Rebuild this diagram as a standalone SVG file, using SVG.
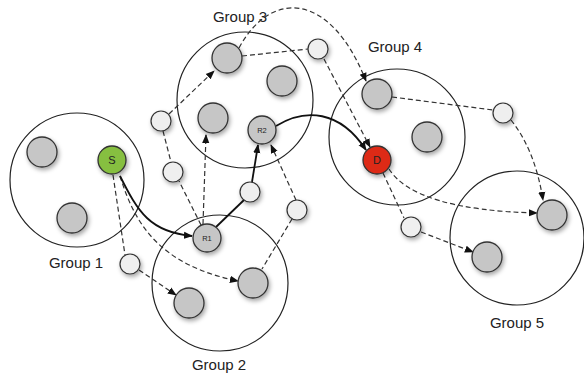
<svg xmlns="http://www.w3.org/2000/svg" width="584" height="375" viewBox="0 0 584 375">
<style>
.grp{fill:none;stroke:#222;stroke-width:1.2}
.lbl{font-family:"Liberation Sans",Arial,sans-serif;font-size:15px;fill:#222;text-anchor:middle}
.node{fill:#c6c6c6;stroke:#333;stroke-width:1.3;filter:url(#sh)}
.relay{fill:#efefef;stroke:#333;stroke-width:1.2;filter:url(#sh)}
.nt{font-family:"Liberation Sans",Arial,sans-serif;fill:#222;text-anchor:middle}
.dash{fill:none;stroke:#333;stroke-width:1.2;stroke-dasharray:5 3}
.solid{fill:none;stroke:#111;stroke-width:1.8}
</style>
<defs>
<filter id="sh" x="-50%" y="-50%" width="200%" height="200%">
<feDropShadow dx="1.5" dy="2.5" stdDeviation="2" flood-color="#000" flood-opacity="0.35"/>
</filter>
<marker id="arr" viewBox="0 0 10 10" refX="9" refY="5" markerWidth="9" markerHeight="9" orient="auto" markerUnits="userSpaceOnUse">
<path d="M0,1 L10,5 L0,9 z" fill="#111"/>
</marker>
</defs>
<rect width="584" height="375" fill="#fff"/>
<g id="groups">
<g id="group1"><circle class="grp" cx="77" cy="180" r="67"/><text class="lbl" x="76" y="268">Group 1</text></g>
<g id="group2"><circle class="grp" cx="220" cy="283" r="68"/><text class="lbl" x="219" y="370">Group 2</text></g>
<g id="group3"><circle class="grp" cx="245" cy="100" r="68"/><text class="lbl" x="240" y="22">Group 3</text></g>
<g id="group4"><circle class="grp" cx="397" cy="137" r="68"/><text class="lbl" x="395" y="52">Group 4</text></g>
<g id="group5"><circle class="grp" cx="517" cy="238" r="67"/><text class="lbl" x="517" y="328">Group 5</text></g>
</g>
<g id="connectors">
<path class="dash" d="M169,114 L214,71" marker-end="url(#arr)"/>
<path class="dash" d="M163,131 L171,162"/>
<path class="dash" d="M201,225 L179,181"/>
<path class="dash" d="M203,224 L206,135" marker-end="url(#arr)"/>
<path class="dash" d="M242,56 L308,49"/>
<path class="dash" d="M239,48 C270,-10 330,-10 366,81" marker-end="url(#arr)"/>
<path class="dash" d="M324,59 L370,147" marker-end="url(#arr)"/>
<path class="dash" d="M296,200 L271,145" marker-end="url(#arr)"/>
<path class="dash" d="M292,219 L262,269"/>
<path class="dash" d="M113,175 L125,255"/>
<path class="dash" d="M120,176 C135,225 160,265 238,281" marker-end="url(#arr)"/>
<path class="dash" d="M139,270 L176,295" marker-end="url(#arr)"/>
<path class="dash" d="M392,97 L493,110"/>
<path class="dash" d="M511,120 Q535,150 543,200" marker-end="url(#arr)"/>
<path class="dash" d="M389,169 Q415,210 537,213" marker-end="url(#arr)"/>
<path class="dash" d="M383,173 L404,218"/>
<path class="dash" d="M421,232 L473,252" marker-end="url(#arr)"/>
<path class="solid" d="M120,176 C138,212 150,232 192,236" marker-end="url(#arr)"/>
<path class="solid" d="M216,227 L244,200"/>
<path class="solid" d="M252,182 L258,145" marker-end="url(#arr)"/>
<path class="solid" d="M276,126 C305,108 340,110 366,150" marker-end="url(#arr)"/>
</g>
<g id="n1a"><circle class="node" cx="42" cy="152" r="15"/></g>
<g id="n1b"><circle class="node" cx="72" cy="218" r="15"/></g>
<g id="S"><circle class="node" cx="112" cy="160" r="14" style="fill:#86bf3f"/><text class="nt" x="112" y="164" font-size="11">S</text></g>
<g id="n3a"><circle class="node" cx="227" cy="58" r="15"/></g>
<g id="n3b"><circle class="node" cx="282" cy="81" r="15"/></g>
<g id="n3c"><circle class="node" cx="213" cy="118" r="15"/></g>
<g id="R2"><circle class="node" cx="262" cy="130" r="14"/><text class="nt" x="262" y="133" font-size="7.5">R2</text></g>
<g id="n4a"><circle class="node" cx="377" cy="94" r="15"/></g>
<g id="n4b"><circle class="node" cx="427" cy="137" r="15"/></g>
<g id="D"><circle class="node" cx="377" cy="160" r="14" style="fill:#dd2a14"/><text class="nt" x="377" y="164" font-size="11">D</text></g>
<g id="R1"><circle class="node" cx="207" cy="238" r="14"/><text class="nt" x="207" y="241" font-size="7.5">R1</text></g>
<g id="n2a"><circle class="node" cx="189" cy="303" r="15"/></g>
<g id="n2b"><circle class="node" cx="253" cy="283" r="15"/></g>
<g id="n5a"><circle class="node" cx="552" cy="215" r="15"/></g>
<g id="n5b"><circle class="node" cx="487" cy="257" r="15"/></g>
<g id="r1"><circle class="relay" cx="161" cy="121" r="10"/></g>
<g id="r2"><circle class="relay" cx="173" cy="172" r="10"/></g>
<g id="r3"><circle class="relay" cx="130" cy="264" r="10"/></g>
<g id="r4"><circle class="relay" cx="318" cy="49" r="10"/></g>
<g id="r5"><circle class="relay" cx="250" cy="192" r="10"/></g>
<g id="r6"><circle class="relay" cx="297" cy="210" r="10"/></g>
<g id="r7"><circle class="relay" cx="503" cy="113" r="10"/></g>
<g id="r8"><circle class="relay" cx="411" cy="227" r="10"/></g>
</svg>
